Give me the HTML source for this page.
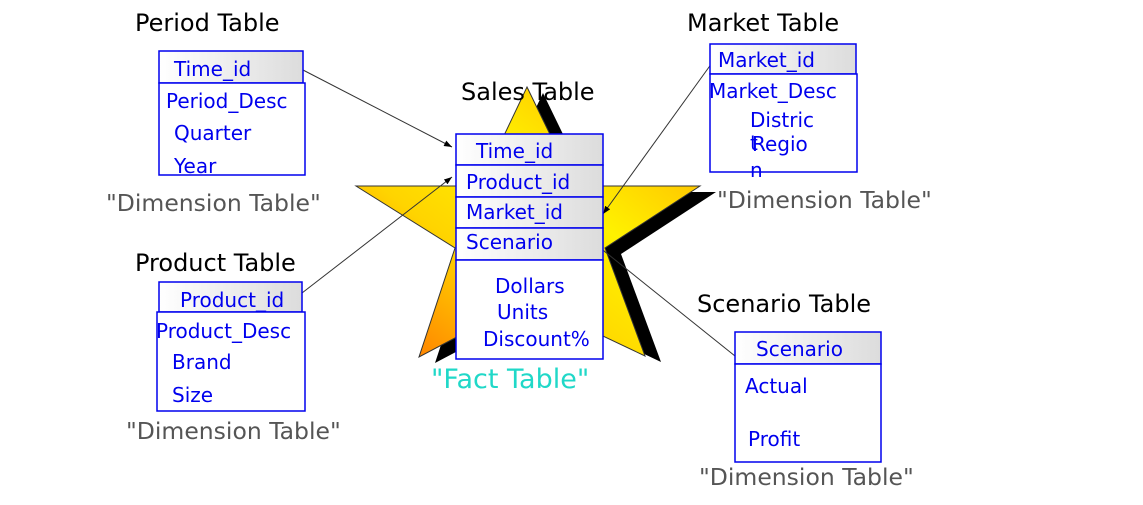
<!DOCTYPE html>
<html><head><meta charset="utf-8"><style>
html,body{margin:0;padding:0;background:#fff;width:1143px;height:505px;overflow:hidden}
svg text{font-family:"DejaVu Sans","Liberation Sans",sans-serif}
.b{fill:#0000ee;font-size:20px}
.t{fill:#000;font-size:24px}
.d{fill:#555;font-size:23.5px}
</style></head><body>
<svg width="1143" height="505" viewBox="0 0 1143 505" xmlns="http://www.w3.org/2000/svg">
<defs>
<linearGradient id="hg" x1="0" y1="0" x2="1" y2="0"><stop offset="0" stop-color="#fff"/><stop offset="1" stop-color="#dcdcdc"/></linearGradient>
<linearGradient id="sg" x1="0" y1="1" x2="1" y2="0"><stop offset="0" stop-color="#ff6a00"/><stop offset="0.35" stop-color="#ffd400"/><stop offset="0.6" stop-color="#fff200"/><stop offset="1" stop-color="#ffa500"/></linearGradient>
<marker id="ar" markerWidth="8" markerHeight="6" refX="8" refY="3" orient="auto"><path d="M0,0 L8,3 L0,6z" fill="#000"/></marker>
</defs>
<g transform="translate(16,6)"><polygon points="527,87 575,186 700,186 605,248 645,356 527,300 419,357 455,248 356,186 480,186" fill="#000"/></g>
<polygon points="527,87 575,186 700,186 605,248 645,356 527,300 419,357 455,248 356,186 480,186" fill="url(#sg)" stroke="#333" stroke-width="1"/>
<g stroke="#333" stroke-width="1" fill="none">
<line x1="303" y1="70" x2="452" y2="147" marker-end="url(#ar)"/>
<line x1="302" y1="293" x2="452" y2="177" marker-end="url(#ar)"/>
<line x1="717" y1="56" x2="603" y2="214" marker-end="url(#ar)"/>
<line x1="735" y1="356" x2="594" y2="243" marker-end="url(#ar)"/>
</g>
<text class="t" x="135" y="31">Period Table</text>
<rect x="159" y="51" width="144" height="32" fill="url(#hg)" stroke="#0000ee" stroke-width="1.5"/>
<rect x="159" y="83" width="146" height="92" fill="#fff" stroke="#0000ee" stroke-width="1.5"/>
<text class="b" x="174" y="76">Time_id</text>
<text class="b" x="166" y="108">Period_Desc</text>
<text class="b" x="174" y="140">Quarter</text>
<text class="b" x="174" y="173">Year</text>
<text class="d" x="106" y="211">"Dimension Table"</text>
<text class="t" x="135" y="271">Product Table</text>
<rect x="159" y="282" width="143" height="30" fill="url(#hg)" stroke="#0000ee" stroke-width="1.5"/>
<rect x="157" y="312" width="148" height="99" fill="#fff" stroke="#0000ee" stroke-width="1.5"/>
<text class="b" x="180" y="307">Product_id</text>
<text class="b" x="156" y="338">Product_Desc</text>
<text class="b" x="172" y="369">Brand</text>
<text class="b" x="172" y="402">Size</text>
<text class="d" x="126" y="439">"Dimension Table"</text>
<text class="t" x="687" y="31">Market Table</text>
<rect x="710" y="44" width="146" height="30" fill="url(#hg)" stroke="#0000ee" stroke-width="1.5"/>
<rect x="710" y="74" width="147" height="98" fill="#fff" stroke="#0000ee" stroke-width="1.5"/>
<text class="b" x="718" y="67">Market_id</text>
<text class="b" x="709" y="98">Market_Desc</text>
<text class="b" x="750" y="127">Distric</text>
<text class="b" x="750" y="150">t</text>
<text class="b" x="752" y="151">Regio</text>
<text class="b" x="750" y="177">n</text>
<text class="d" x="717" y="208">"Dimension Table"</text>
<text class="t" x="697" y="312">Scenario Table</text>
<rect x="735" y="332" width="146" height="32" fill="url(#hg)" stroke="#0000ee" stroke-width="1.5"/>
<rect x="735" y="364" width="146" height="98" fill="#fff" stroke="#0000ee" stroke-width="1.5"/>
<text class="b" x="756" y="356">Scenario</text>
<text class="b" x="745" y="393">Actual</text>
<text class="b" x="748" y="446">Profit</text>
<text class="d" x="699" y="485">"Dimension Table"</text>
<text class="t" x="461" y="100">Sales Table</text>
<g stroke="#0000ee" stroke-width="1.5">
<rect x="456" y="134" width="147" height="31" fill="url(#hg)"/>
<rect x="456" y="165" width="147" height="32" fill="url(#hg)"/>
<rect x="456" y="197" width="147" height="31" fill="url(#hg)"/>
<rect x="456" y="228" width="147" height="32" fill="url(#hg)"/>
<rect x="456" y="260" width="147" height="99" fill="#fff"/>
</g>
<text class="b" x="476" y="158">Time_id</text>
<text class="b" x="466" y="189">Product_id</text>
<text class="b" x="466" y="219">Market_id</text>
<text class="b" x="466" y="249">Scenario</text>
<text class="b" x="495" y="293">Dollars</text>
<text class="b" x="497" y="319">Units</text>
<text class="b" x="483" y="346">Discount%</text>
<text x="431" y="388" style="fill:#20d8c8;font-size:27px">"Fact Table"</text>
</svg>
</body></html>
